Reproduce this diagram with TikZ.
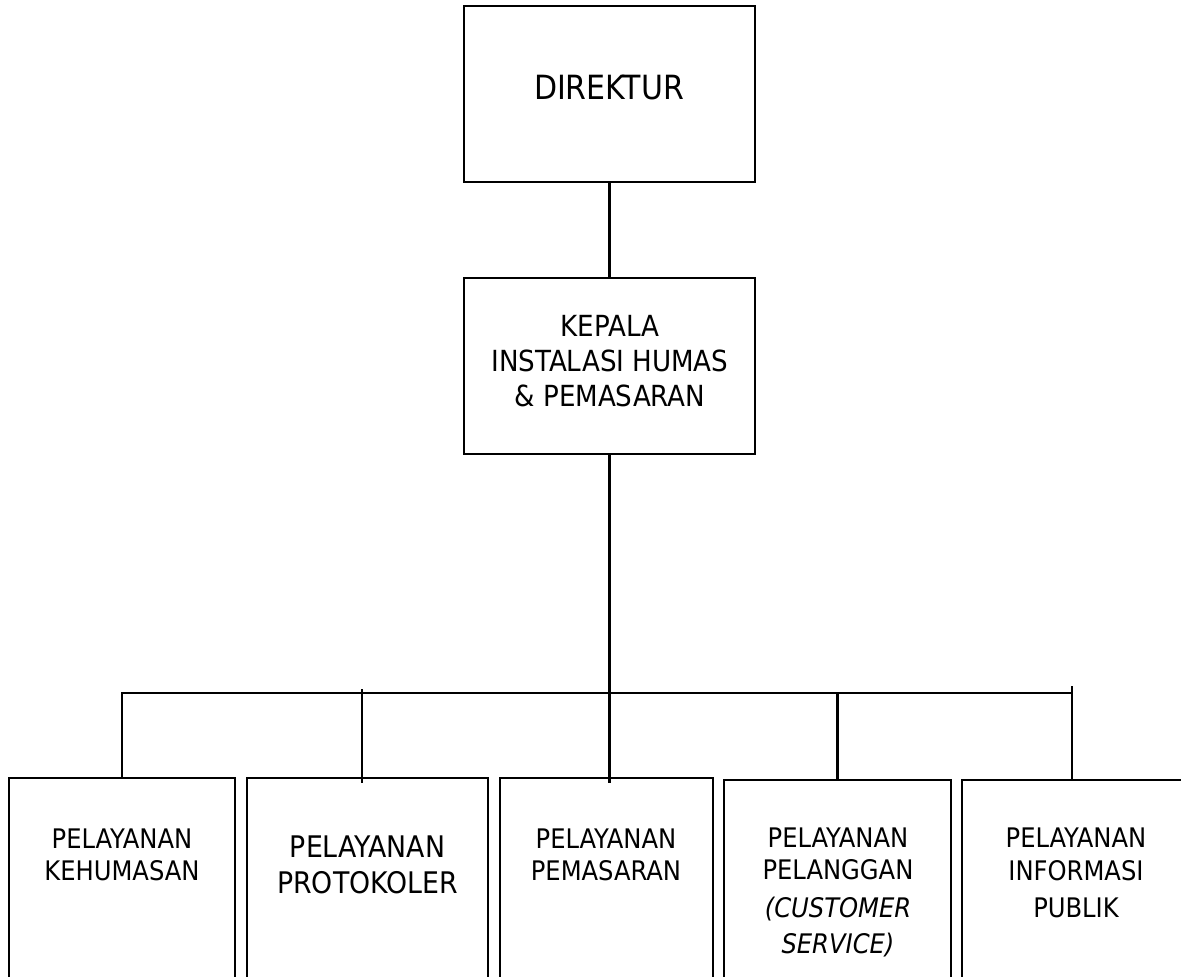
\documentclass[tikz,border=0pt]{standalone}
\usepackage{fontspec}
\setmainfont{DejaVu Sans Condensed}[ItalicFont={DejaVu Sans Condensed Oblique}]
\begin{document}
\begin{tikzpicture}[x=0.75pt,y=-0.75pt,
  box/.style={draw=black,line width=1.9pt,inner sep=0pt,outer sep=0pt,anchor=north west,fill=none},
  lbl/.style={inner sep=0pt,outer sep=0pt,anchor=north,align=center,text=black},
  wire/.style={draw=black,line width=1.8pt,line cap=butt,line join=miter}]
% page
\fill[white] (0,0) rectangle (1181,976);
\useasboundingbox (0,0) rectangle (1181,976);
\clip (0,0) rectangle (1181,976);

% top level boxes
\node[box,minimum width=218.25pt,minimum height=132pt] (dir) at (464,6) {};
\node[box,minimum width=218.25pt,minimum height=132pt] (kep) at (464,278) {};

% unit boxes (running past the lower edge)
\node[box,minimum width=169.5pt,minimum height=180pt] (b1) at (9,778) {};
\node[box,minimum width=180.75pt,minimum height=180pt] (b2) at (247,778) {};
\node[box,minimum width=159.75pt,minimum height=180pt] (b3) at (500,778) {};
\node[box,minimum width=170.25pt,minimum height=180pt] (b4) at (724,780) {};
\node[box,minimum width=171pt,minimum height=180pt] (b5) at (962,780) {};

% labels
\node[lbl,font={\fontsize{25}{30}\selectfont}] (t0) at (609,75) {DIREKTUR};
\node[lbl,font={\fontsize{21.8}{26.25}\selectfont}] (tk) at (610,315)
  {KEPALA\\INSTALASI HUMAS\\\&~PEMASARAN};
\node[lbl,font={\fontsize{20.2}{24}\selectfont}] (t1) at (122,829)
  {PELAYANAN\\KEHUMASAN};
\node[lbl,font={\fontsize{22.3}{27}\selectfont}] (t2) at (367.5,836)
  {PELAYANAN\\PROTOKOLER};
\node[lbl,font={\fontsize{20.2}{24}\selectfont}] (t3) at (606,829)
  {PELAYANAN\\PEMASARAN};
\node[lbl,font={\fontsize{20.2}{24}\selectfont}] (t4) at (838,828)
  {PELAYANAN\\PELANGGAN\\[4.5pt]\textit{(CUSTOMER}\\[3pt]\textit{SERVICE)}};
\node[lbl,font={\fontsize{20.2}{24.75}\selectfont}] (t5) at (1076,828)
  {PELAYANAN\\INFORMASI\\[3pt]PUBLIK};

% connector points
\coordinate (barR) at (1072,693);
\coordinate (p2) at (362,689);
\coordinate (p5) at (1072,686);
\coordinate (q3) at (610,783);

% connectors
\draw[wire] (dir.south) -- (kep.north);
\draw[wire] (kep.south) -- (kep.south |- q3);
\draw[wire] (b1.north) |- (barR);
\draw[wire] (p2) -- ([yshift=-3.75pt]p2 |- b2.north);
\draw[wire] (b4.north |- barR) -- (b4.north);
\draw[wire] (p5) -- (p5 |- b5.north);
\end{tikzpicture}
\end{document}
